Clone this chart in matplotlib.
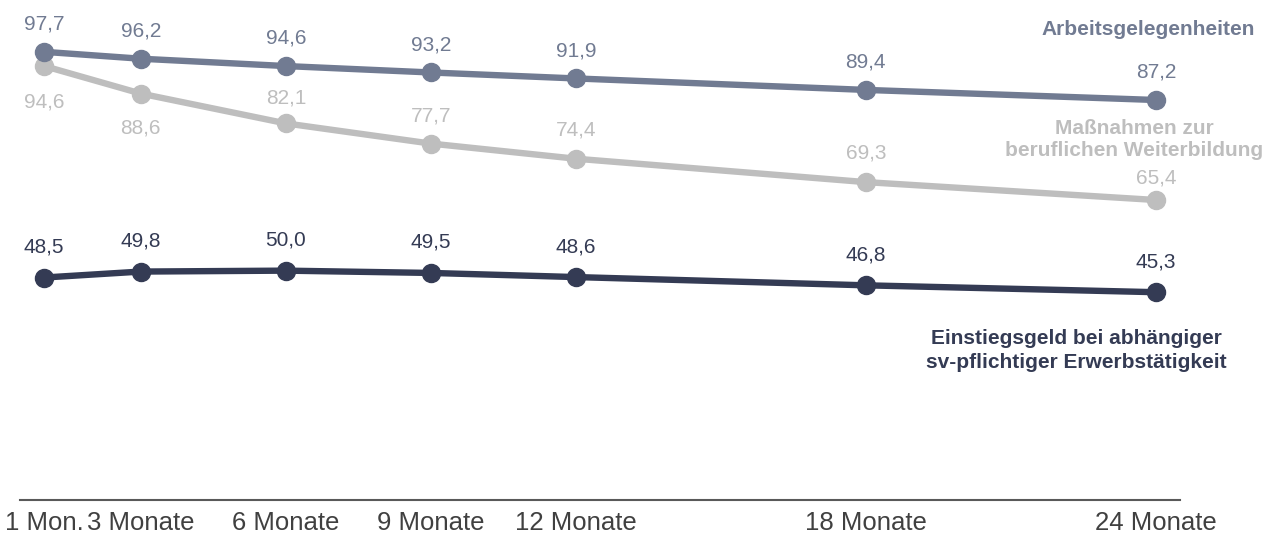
import matplotlib
matplotlib.use("Agg")
import matplotlib.pyplot as plt

plt.rcParams['font.family'] = ['Liberation Sans', 'DejaVu Sans']

# Daten
monate = [1, 3, 6, 9, 12, 18, 24]
tick_labels = ['1 Mon.', '3 Monate', '6 Monate', '9 Monate', '12 Monate', '18 Monate', '24 Monate']
arbeitsgelegenheiten = [97.7, 96.2, 94.6, 93.2, 91.9, 89.4, 87.2]
weiterbildung = [94.6, 88.6, 82.1, 77.7, 74.4, 69.3, 65.4]
einstiegsgeld = [48.5, 49.8, 50.0, 49.5, 48.6, 46.8, 45.3]

C_ARBEIT = '#717B92'
C_WEITER = '#BEBEBE'
C_EINST = '#343B54'


def fmt(v):
    return f'{v:.1f}'.replace('.', ',')


fig = plt.figure(figsize=(12.84, 5.45), dpi=100)
ax = fig.add_axes([20 / 1284, 45 / 545, 1160 / 1284, 500 / 545])

style = dict(linewidth=4.6, marker='o', markersize=13, solid_capstyle='round')
ax.plot(monate, weiterbildung, color=C_WEITER, zorder=2, **style)
ax.plot(monate, arbeitsgelegenheiten, color=C_ARBEIT, zorder=3, **style)
ax.plot(monate, einstiegsgeld, color=C_EINST, zorder=3, **style)

# Wertebeschriftungen (Abstand in Punkt)
for x, v in zip(monate, arbeitsgelegenheiten):
    ax.annotate(fmt(v), (x, v), xytext=(0, 20), textcoords='offset points',
                ha='center', va='center', fontsize=15, color=C_ARBEIT)
offs_weiter = [-26, -25, 18, 20, 21, 21, 16]
for x, v, dy in zip(monate, weiterbildung, offs_weiter):
    ax.annotate(fmt(v), (x, v), xytext=(0, dy), textcoords='offset points',
                ha='center', va='center', fontsize=15, color=C_WEITER)
for x, v in zip(monate, einstiegsgeld):
    ax.annotate(fmt(v), (x, v), xytext=(0, 22), textcoords='offset points',
                ha='center', va='center', fontsize=15, color=C_EINST)

# Reihenbeschriftungen
ax.text(23.84, 102.6, 'Arbeitsgelegenheiten', ha='center', va='center',
        fontsize=15, fontweight='bold', color=C_ARBEIT)
ax.text(23.55, 78.6, 'Maßnahmen zur\nberuflichen Weiterbildung', ha='center', va='center',
        fontsize=15, fontweight='bold', color=C_WEITER, linespacing=1.22)
ax.text(22.36, 32.6, 'Einstiegsgeld bei abhängiger\nsv-pflichtiger Erwerbstätigkeit', ha='center',
        va='center', fontsize=15, fontweight='bold', color=C_EINST, linespacing=1.28)

ax.set_xlim(0.5, 24.5)
ax.set_ylim(0, 109)
ax.set_xticks(monate)
ax.set_xticklabels(tick_labels, fontsize=18.5, color='#404040')
ax.tick_params(axis='x', length=0, pad=8)
ax.set_yticks([])
for s in ['top', 'right', 'left']:
    ax.spines[s].set_visible(False)
ax.spines['bottom'].set_color('#595959')
ax.spines['bottom'].set_linewidth(1.5)
ax.set_facecolor('none')

fig.savefig('out.png', dpi=100)
